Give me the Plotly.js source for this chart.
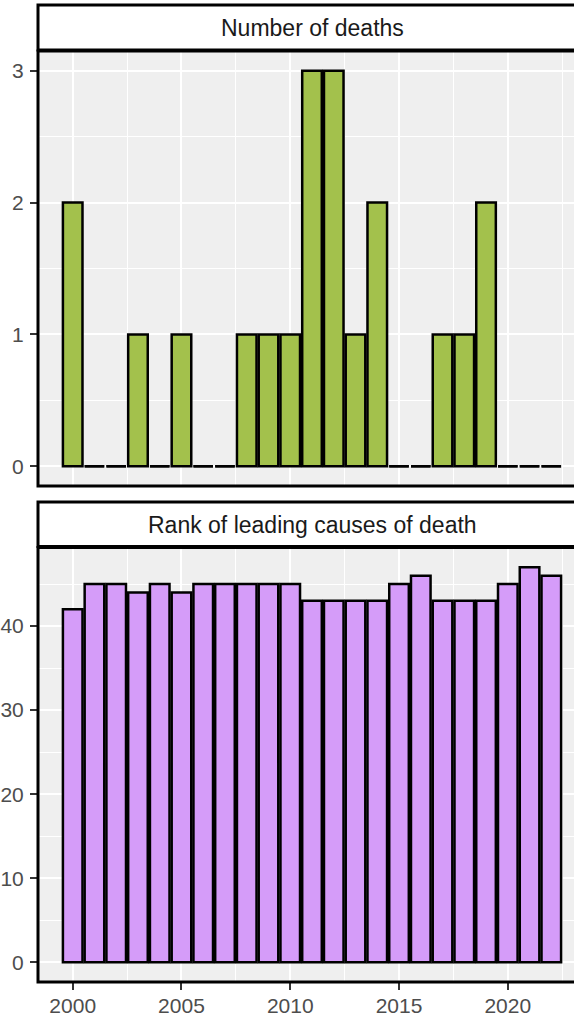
<!DOCTYPE html>
<html>
<head>
<meta charset="utf-8">
<script src="https://cdn.plot.ly/plotly-3.0.1.min.js"></script>
<style>
html,body{margin:0;padding:0;overflow:hidden;background:#fff;}
#chart{width:600px;height:1018px;}
</style>
</head>
<body>
<div id="chart"></div>
<script>
const years = [2000,2001,2002,2003,2004,2005,2006,2007,2008,2009,2010,2011,2012,2013,2014,2015,2016,2017,2018,2019,2020,2021,2022];
const deaths = [2,0,0,1,0,1,0,0,1,1,1,3,3,1,2,0,0,1,1,2,0,0,0];
const ranks = [42,45,45,44,45,44,45,45,45,45,45,43,43,43,43,45,46,43,43,43,45,47,46];
const panelTitles = ["Number of deaths", "Rank of leading causes of death"];
const xTickVals = [2000,2005,2010,2015,2020];

const barWidth = 0.9;
const green = "#a3c14c";
const purple = "#d59cf9";

// zero-height bars drawn as their outline segment
const zx = [], zy = [];
years.forEach((yr, i) => {
  if (deaths[i] === 0) {
    zx.push(yr - barWidth/2, yr + barWidth/2, null);
    zy.push(0, 0, null);
  }
});

const traces = [
  {type:"bar", x:years, y:deaths, width:barWidth, xaxis:"x", yaxis:"y",
   marker:{color:green, line:{color:"#000", width:2.5}}, hoverinfo:"x+y"},
  {type:"scatter", mode:"lines", x:zx, y:zy, xaxis:"x", yaxis:"y",
   line:{color:"#000", width:2.5}, hoverinfo:"skip"},
  {type:"bar", x:years, y:ranks, width:barWidth, xaxis:"x2", yaxis:"y2",
   marker:{color:purple, line:{color:"#000", width:2.5}}, hoverinfo:"x+y"}
];

const H = 1018;
const f = px => 1 - px / H;
const xr = [1998.405, 2023.595];
const FAM = "Liberation Sans, Arial, sans-serif";
const tickFont = {family:FAM, size:21, color:"#4d4d4d"};
const minorGrid = {showgrid:true, gridcolor:"#ffffff", gridwidth:1};

const common = {
  showgrid:true, gridcolor:"#ffffff", gridwidth:2, zeroline:false, showline:false,
  tickfont:tickFont, ticklen:7, tickwidth:2, tickcolor:"#333333"
};

const layout = {
  width:600, height:H,
  margin:{l:38, r:14, t:0, b:0},
  paper_bgcolor:"#ffffff", plot_bgcolor:"#efefef",
  showlegend:false, bargap:0,
  xaxis:Object.assign({}, common, {anchor:"y", domain:[0,1], range:xr, tickvals:xTickVals,
    showticklabels:false, ticks:"", minor:Object.assign({dtick:2.5, tick0:2000}, minorGrid)}),
  yaxis:Object.assign({}, common, {anchor:"x", domain:[f(486), f(51)], range:[-0.15,3.15],
    tickvals:[0,1,2,3], ticks:"outside", ticklabelstandoff:2,
    minor:Object.assign({dtick:0.5, tick0:0}, minorGrid)}),
  xaxis2:Object.assign({}, common, {anchor:"y2", domain:[0,1], range:xr, tickvals:xTickVals,
    ticks:"outside", matches:"x", ticklabelstandoff:-2,
    minor:Object.assign({dtick:2.5, tick0:2000}, minorGrid)}),
  yaxis2:Object.assign({}, common, {anchor:"x2", domain:[f(982), f(547.5)], range:[-2.35,49.35],
    tickvals:[0,10,20,30,40], ticks:"outside", ticklabelstandoff:2,
    minor:Object.assign({dtick:5, tick0:0}, minorGrid)}),
  shapes:[
    // panel borders
    {type:"rect", xref:"paper", yref:"paper", x0:0, x1:1, y0:f(486), y1:f(51), line:{color:"#000", width:3}, fillcolor:"rgba(0,0,0,0)", layer:"above"},
    {type:"rect", xref:"paper", yref:"paper", x0:0, x1:1, y0:f(982), y1:f(547.5), line:{color:"#000", width:3}, fillcolor:"rgba(0,0,0,0)", layer:"above"},
    // strips
    {type:"rect", xref:"paper", yref:"paper", x0:0, x1:1, y0:f(50), y1:f(5), line:{color:"#000", width:3}, fillcolor:"#ffffff", layer:"above"},
    {type:"rect", xref:"paper", yref:"paper", x0:0, x1:1, y0:f(546.5), y1:f(502), line:{color:"#000", width:3}, fillcolor:"#ffffff", layer:"above"}
  ],
  annotations:[
    {xref:"paper", yref:"paper", x:0.5, y:f(28), text:panelTitles[0], showarrow:false,
     xanchor:"center", yanchor:"middle", font:{family:FAM, size:23, color:"#1a1a1a"}},
    {xref:"paper", yref:"paper", x:0.5, y:f(525), text:panelTitles[1], showarrow:false,
     xanchor:"center", yanchor:"middle", font:{family:FAM, size:23, color:"#1a1a1a"}}
  ]
};

Plotly.newPlot("chart", traces, layout, {displayModeBar:false, staticPlot:true});
</script>
</body>
</html>
